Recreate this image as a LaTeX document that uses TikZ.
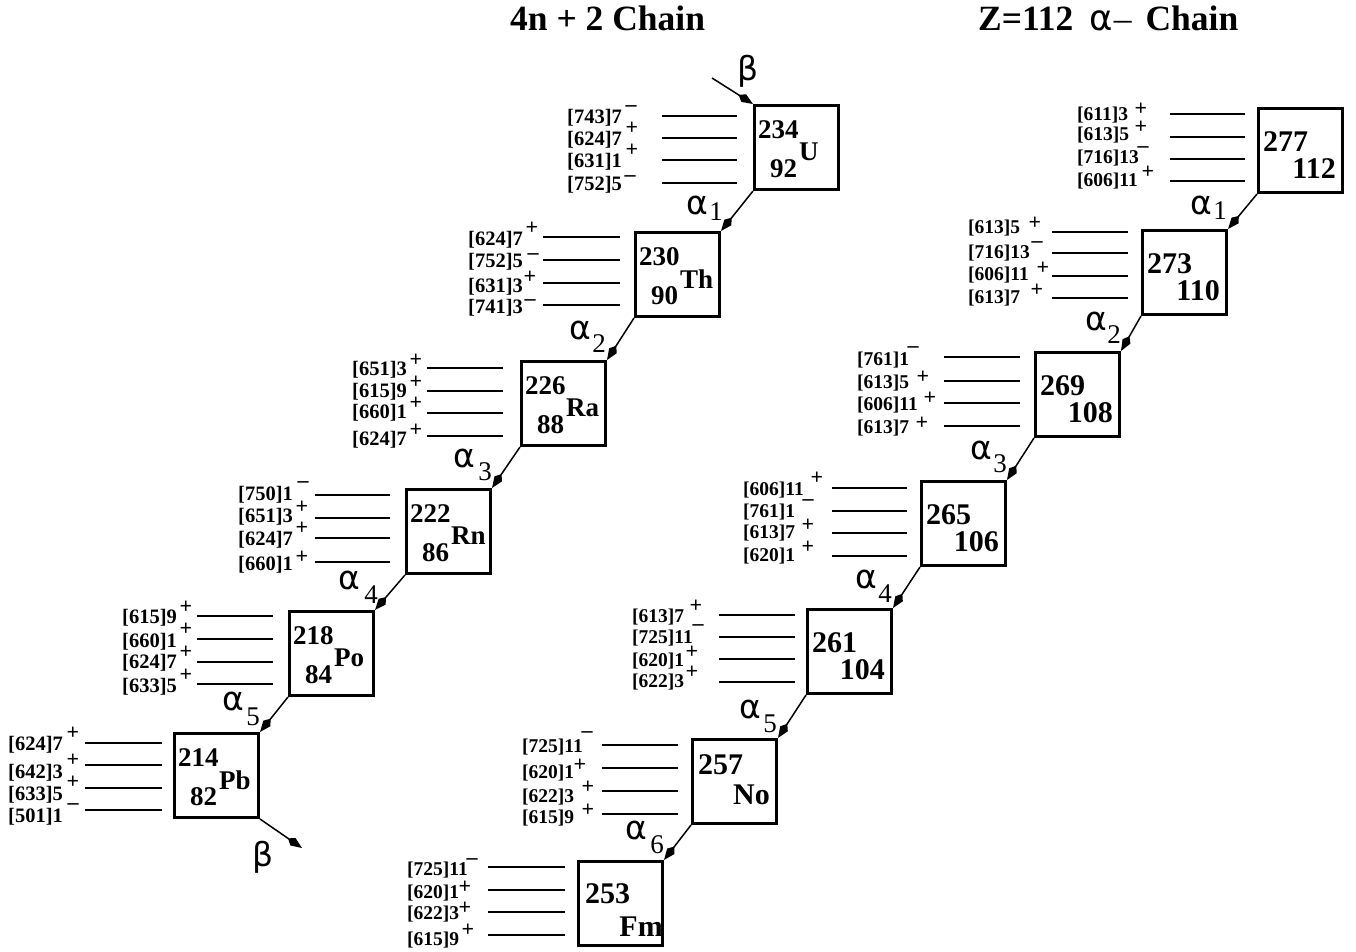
\documentclass[tikz,border=0pt]{standalone}
\usepackage{fontspec}
\setmainfont{Liberation Serif}
\newfontfamily\djv{DejaVu Sans}
\usetikzlibrary{arrows.meta,calc}
\newcommand\LV[9]{\node[#2] (#1) at (#3) {#4}; \node[sgn] (#1s) at (#6) {#5}; \draw[lev] (#7,#9) -- (#8,#9);}
\begin{document}
\begin{tikzpicture}[x=1pt,y=-1pt,
 box/.style={draw, line width=3pt, minimum size=84pt, inner sep=0pt},
 lev/.style={line width=1.4pt},
 conn/.style={line width=1.5pt, -{Kite[length=17pt,width=9pt,inset=6pt]}},
 labl/.style={anchor=west, inner sep=0pt, font=\bfseries\fontsize{20.5}{20.5}\selectfont},
 labr/.style={anchor=west, inner sep=0pt, font=\bfseries\fontsize{19.5}{19.5}\selectfont},
 sgn/.style={inner sep=0pt, font=\bfseries\fontsize{22}{22}\selectfont},
 ml/.style={inner sep=0pt, font=\bfseries\fontsize{27}{27}\selectfont},
 mr/.style={inner sep=0pt, font=\bfseries\fontsize{30}{30}\selectfont},
 gr/.style={inner sep=0pt, font=\djv\fontsize{33}{33}\selectfont},
 sub/.style={inner sep=0pt, font=\fontsize{27}{27}\selectfont},
 ttl/.style={inner sep=0pt, anchor=base west, font=\bfseries\fontsize{35.5}{35.5}\selectfont}]
\fill[white] (0,0) rectangle (1356,952);
\useasboundingbox (0,0) rectangle (1356,952);
% titles
\node[ttl] (t1) at (510,31) {4n + 2 Chain};
\node[ttl] (t2) at (978,31) {Z=112\hspace{16pt}{\djv\mdseries α}\hspace{1pt}{\mdseries –}\hspace{14pt}Chain};
% boxes left chain
\node[box] (U) at (796.5,147.5) {};
\node[box] (Th) at (677.5,274.5) {};
\node[box] (Ra) at (563.5,403.5) {};
\node[box] (Rn) at (448.5,531.5) {};
\node[box] (Po) at (331.5,653.5) {};
\node[box] (Pb) at (216.5,775.5) {};
% boxes right chain
\node[box] (E) at (1300.5,150.5) {};
\node[box] (F) at (1184.5,272.5) {};
\node[box] (G) at (1077.5,394.5) {};
\node[box] (H) at (963.5,523.5) {};
\node[box] (I) at (849.5,651.5) {};
\node[box] (J) at (734.5,781.5) {};
\node[box] (K) at (620.5,903.5) {};
% box texts left
\foreach \b/\m/\z/\s in {U/234/92/U, Th/230/90/Th, Ra/226/88/Ra, Rn/222/86/Rn, Po/218/84/Po, Pb/214/82/Pb}{
  \node[ml, anchor=west] (\b m) at ($(\b.north west)+(5,26)$) {\m};
  \node[ml, anchor=west] (\b z) at ($(\b.north west)+(17,65)$) {\z};
  \node[ml, anchor=west] (\b s) at ($(\b.north west)+(46,48)$) {\s};
}
% box texts right
\foreach \b/\m/\z in {E/277/112, F/273/110, G/269/108, H/265/106, I/261/104}{
  \node[mr, anchor=west] (\b m) at ($(\b.north west)+(6,35)$) {\m};
  \node[mr, anchor=east] (\b z) at ($(\b.north west)+(79,62)$) {\z};
}
\node[mr, anchor=west] (Jm) at ($(J.north west)+(7,27)$) {257};
\node[mr, anchor=east] (Jz) at ($(J.north west)+(79,57)$) {No};
\node[mr, anchor=west] (Km) at ($(K.north west)+(8,34)$) {253};
\node[mr, anchor=east] (Kz) at ($(K.north west)+(86,67)$) {Fm};
% levels left
\LV{U1}{labl}{567,118}{[743]7}{–}{631,109}{662}{737}{116}
\LV{U2}{labl}{567,140}{[624]7}{+}{632,128}{662}{737}{138}
\LV{U3}{labl}{567,162}{[631]1}{+}{632,150}{662}{737}{160}
\LV{U4}{labl}{567,185}{[752]5}{–}{630,179}{662}{737}{183}
\LV{T1}{labl}{468,240}{[624]7}{+}{532,228}{543}{620}{237}
\LV{T2}{labl}{468,262}{[752]5}{–}{533,257}{543}{620}{260}
\LV{T3}{labl}{468,287}{[631]3}{+}{530,277}{543}{620}{283}
\LV{T4}{labl}{468,308}{[741]3}{–}{530,303}{543}{620}{305}
\LV{R1}{labl}{352,370}{[651]3}{+}{416,360}{427}{503}{368}
\LV{R2}{labl}{352,392}{[615]9}{+}{416,382}{427}{503}{391}
\LV{R3}{labl}{352,413}{[660]1}{+}{416,403}{427}{503}{413}
\LV{R4}{labl}{352,440}{[624]7}{+}{416,430}{427}{503}{436}
\LV{N1}{labl}{238,495}{[750]1}{–}{303,485}{315}{390}{495}
\LV{N2}{labl}{238,517}{[651]3}{+}{302,507}{315}{390}{518}
\LV{N3}{labl}{238,540}{[624]7}{+}{302,528}{315}{390}{538}
\LV{N4}{labl}{238,565}{[660]1}{+}{302,557}{315}{390}{562}
\LV{P1}{labl}{122,618}{[615]9}{+}{186,607}{197}{273}{616}
\LV{P2}{labl}{122,642}{[660]1}{+}{186,629}{197}{273}{639}
\LV{P3}{labl}{122,663}{[624]7}{+}{186,652}{197}{273}{662}
\LV{P4}{labl}{122,687}{[633]5}{+}{186,675}{197}{273}{684}
\LV{B1}{labl}{8,745}{[624]7}{+}{73,733}{85}{162}{743}
\LV{B2}{labl}{8,773}{[642]3}{+}{73,760}{85}{162}{765}
\LV{B3}{labl}{8,795}{[633]5}{+}{73,782}{85}{162}{788}
\LV{B4}{labl}{8,817}{[501]1}{–}{73,807}{85}{162}{810}
% levels right
\LV{Ea}{labr}{1077,115}{[611]3}{+}{1141,109}{1170}{1245}{114}
\LV{Eb}{labr}{1077,135}{[613]5}{+}{1141,127}{1170}{1245}{137}
\LV{Ec}{labr}{1077,158}{[716]13}{–}{1143,150}{1170}{1245}{159}
\LV{Ed}{labr}{1077,181}{[606]11}{+}{1148,172}{1170}{1245}{181}
\LV{Fa}{labr}{968,228}{[613]5}{+}{1035,223}{1052}{1128}{232}
\LV{Fb}{labr}{968,253}{[716]13}{–}{1037,245}{1052}{1128}{253}
\LV{Fc}{labr}{968,275}{[606]11}{+}{1043,268}{1052}{1128}{276}
\LV{Fd}{labr}{968,298}{[613]7}{+}{1037,290}{1052}{1128}{298}
\LV{Ga}{labr}{857,360}{[761]1}{–}{913,350}{944}{1020}{357}
\LV{Gb}{labr}{857,383}{[613]5}{+}{923,377}{944}{1020}{381}
\LV{Gc}{labr}{857,405}{[606]11}{+}{930,398}{944}{1020}{403}
\LV{Gd}{labr}{857,428}{[613]7}{+}{922,423}{944}{1020}{426}
\LV{Ha}{labr}{743,490}{[606]11}{+}{817,478}{832}{907}{488}
\LV{Hb}{labr}{743,512}{[761]1}{–}{808,503}{832}{907}{511}
\LV{Hc}{labr}{743,533}{[613]7}{+}{808,525}{832}{907}{533}
\LV{Hd}{labr}{743,556}{[620]1}{+}{808,547}{832}{907}{556}
\LV{Ia}{labr}{632,617}{[613]7}{+}{696,606}{719}{795}{615}
\LV{Ib}{labr}{632,638}{[725]11}{–}{698,628}{719}{795}{637}
\LV{Ic}{labr}{632,661}{[620]1}{+}{692,652}{719}{795}{659}
\LV{Id}{labr}{632,682}{[622]3}{+}{692,672}{719}{795}{682}
\LV{Ja}{labr}{522,747}{[725]11}{–}{587,735}{602}{678}{745}
\LV{Jb}{labr}{522,773}{[620]1}{+}{580,765}{602}{678}{768}
\LV{Jc}{labr}{522,797}{[622]3}{+}{588,787}{602}{678}{791}
\LV{Jd}{labr}{522,818}{[615]9}{+}{588,810}{602}{678}{814}
\LV{Ka}{labr}{407,870}{[725]11}{–}{472,862}{488}{565}{867}
\LV{Kb}{labr}{407,893}{[620]1}{+}{465,887}{488}{565}{890}
\LV{Kc}{labr}{407,914}{[622]3}{+}{465,908}{488}{565}{912}
\LV{Kd}{labr}{407,940}{[615]9}{+}{468,930}{488}{565}{935}
% connectors left
\draw[conn] (U.south west) -- (Th.north east);
\draw[conn] (Th.south west) -- (Ra.north east);
\draw[conn] (Ra.south west) -- (Rn.north east);
\draw[conn] (Rn.south west) -- (Po.north east);
\draw[conn] (Po.south west) -- (Pb.north east);
% connectors right
\draw[conn] (E.south west) -- (F.north east);
\draw[conn] (F.south west) -- (G.north east);
\draw[conn] (G.south west) -- (H.north east);
\draw[conn] (H.south west) -- (I.north east);
\draw[conn] (I.south west) -- (J.north east);
\draw[conn] (J.south west) -- (K.north east);
% beta
\coordinate (bt) at (712,78);
\coordinate (bb) at (302,848);
\draw[conn] (bt) -- (U.north west);
\draw[conn] (Pb.south east) -- (bb);
\node[gr] (b1) at (748,71) {β};
\node[gr] (b2) at (263,857) {β};
% alpha labels
\foreach \n/\ax/\ay/\sx/\sy in {1/697/205/716/212, 2/580/330/599/344, 3/464/458/485/472, 4/349/580/371/595, 5/233/701/253/717}{
  \node[gr] (al\n) at (\ax,\ay) {α};
  \node[sub] (al\n s) at (\sx,\sy) {\n};
}
\foreach \n/\ax/\ay/\sx/\sy in {1/1201/205/1220/211, 2/1096/321/1114/335, 3/981/450/1000/464, 4/866/579/885/594, 5/750/709/770/724, 6/636/830/657/845}{
  \node[gr] (ar\n) at (\ax,\ay) {α};
  \node[sub] (ar\n s) at (\sx,\sy) {\n};
}
\end{tikzpicture}
\end{document}
